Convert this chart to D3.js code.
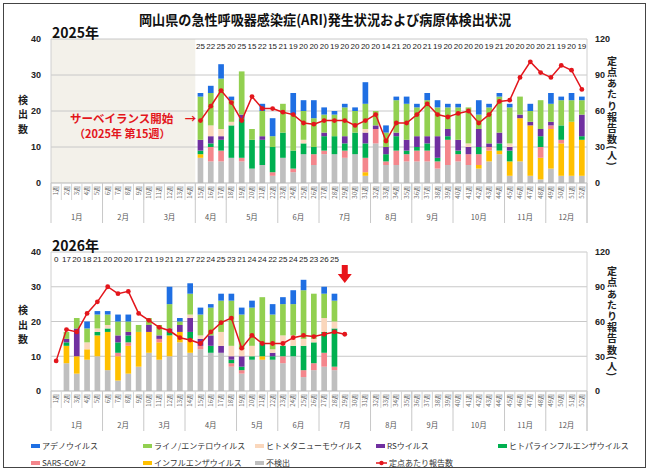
<!DOCTYPE html>
<html>
<head>
<meta charset="utf-8">
<script src="https://cdn.jsdelivr.net/npm/d3@7"></script>
<style>
  body { margin: 0; background: #fff; }
  text { font-family: "Noto Sans CJK JP", "Noto Sans", sans-serif; }
</style>
</head>
<body>
<svg id="chart" width="650" height="472"></svg>
<script>
// カテゴリ
const weeks = d3.range(1, 53);
const monthNames = ["1月","2月","3月","4月","5月","6月","7月","8月","9月","10月","11月","12月"];
const monthStart2025 = [1, 6, 10, 15, 18, 23, 27, 32, 36, 40, 45, 49];
const monthStart2026 = [1, 6, 10, 14, 19, 23, 27, 32, 36, 40, 45, 49];

// 積み上げ順（下から）
const seriesKeys = ["none", "flu", "sars", "para", "rs", "hmpv", "rhino", "adeno"];
const seriesNames = {
  adeno: "アデノウイルス", rhino: "ライノ/エンテロウイルス", hmpv: "ヒトメタニューモウイルス",
  rs: "RSウイルス", para: "ヒトパラインフルエンザウイルス", sars: "SARS-CoV-2",
  flu: "インフルエンザウイルス", none: "不検出"
};
const colors = {
  adeno: "#1f6fe3", rhino: "#92d050", hmpv: "#fad7bc", rs: "#7030a0",
  para: "#00b050", sars: "#f4868c", flu: "#ffc000", none: "#bfbfbf"
};

// 2025年（第15週〜第52週）
const weeks2025 = d3.range(15, 53);
const samples2025 = [25,22,25,20,25,15,22,15,21,19,20,20,20,19,20,20,20,20,14,21,20,20,21,19,20,20,20,20,19,21,20,20,20,20,21,19,20,19];
const none2025  = [7,6,6,7,6,4,5,2,7,3,8,5,8,8,7,8,2,11,5,5,6,6,6,4,5,6,5,4,6,8,2,6,2,1,4,2,2,2];
const flu2025   = [1,0,0,0,0,0,0,0,0,0,0,0,0,0,0,0,1,0,0,0,0,0,0,0,0,0,0,1,3,1,4,12,14,6,11,9,15,10];
const sars2025  = [0,4,3,0,1,0,0,1,0,1,0,3,1,0,2,0,4,4,1,4,2,3,3,2,7,2,3,3,1,0,0,0,0,3,1,1,0,0];
const para2025  = [1,1,3,9,11,8,7,7,7,5,3,2,4,5,2,6,4,0,2,4,1,1,2,1,1,1,0,2,0,2,3,0,0,3,0,4,0,1];
const rs2025    = [3,2,1,0,1,0,1,0,0,0,0,0,1,0,2,0,3,1,2,1,3,3,2,6,2,3,2,5,1,3,1,1,1,2,1,0,0,6];
const hmpv2025  = [0,3,2,1,0,0,0,0,0,0,1,0,0,0,0,0,1,0,0,0,0,0,0,0,0,0,1,0,0,0,1,0,0,0,0,0,0,0];
const rhino2025 = [12,9,14,6,12,3,7,3,8,10,8,8,5,6,8,6,7,4,4,9,10,8,10,8,6,9,10,4,10,10,10,5,3,8,5,7,6,4];
const adeno2025 = [1,2,4,1,0,0,2,5,0,6,3,5,2,1,1,1,6,0,2,1,2,1,2,2,1,1,0,4,1,1,1,0,2,0,3,1,2,1];
const perSite2025 = [52,64,77,67,52,72,62,62,59,57,50,49,52,52,52,48,52,57,35,50,50,57,66,57,55,58,60,50,57,68,69,88,101,92,88,98,94,78];

// 2026年（第1週〜第28週、報告数は第29週まで）
const weeks2026 = d3.range(1, 29);
const lineWeeks2026 = d3.range(1, 30);
const samples2026 = [0,17,20,18,21,20,20,20,17,21,19,21,21,27,22,24,25,23,21,24,24,22,25,24,25,23,26,25];
const none2026  = [0,8,5,9,10,6,3,5,7,11,9,10,14,11,12,11,11,7,5,9,9,9,8,10,4,6,7,6];
const flu2026   = [0,5,5,3,6,11,7,8,10,6,5,6,3,4,0,0,0,0,0,0,1,0,0,0,0,0,0,0];
const sars2026  = [0,0,0,0,0,0,1,1,0,0,1,0,0,0,1,0,0,1,1,0,0,0,2,0,2,2,4,1];
const para2026  = [0,1,0,0,1,1,3,2,0,0,0,1,0,2,0,2,0,1,1,1,4,1,3,3,7,6,6,11];
const rs2026    = [0,1,8,0,0,0,2,1,0,2,1,1,2,4,2,3,2,1,3,0,0,1,0,0,0,0,0,0];
const hmpv2026  = [0,0,0,2,1,1,0,0,0,0,0,0,0,1,1,0,4,3,2,3,0,1,3,3,2,1,4,2];
const rhino2026 = [0,2,3,4,4,3,4,3,2,2,3,7,1,6,6,8,9,13,10,11,13,10,9,9,14,13,7,6];
const adeno2026 = [0,0,0,2,1,1,2,2,0,0,0,5,1,3,2,1,2,2,2,2,0,3,2,4,3,0,2,2];
const perSite2026 = [26,53,51,67,77,90,84,86,67,61,55,52,46,44,41,51,59,63,37,48,41,41,41,46,48,47,49,51,49];

const svg = d3.select("#chart");
const plotL = 51, plotR = 587;
const red = "#e3161c";

const x = d3.scaleBand().domain(weeks).range([plotL, plotR])
  .paddingInner(0.45).paddingOuter(0.225);
const step = x.step();
const cx = w => x(w) + x.bandwidth() / 2;
const edge = w => plotL + (w - 1) * step;

function makeRows(wks, cols) {
  return wks.map((w, i) => {
    const r = { week: w };
    seriesKeys.forEach(k => r[k] = cols[k][i]);
    return r;
  });
}

// 枠
svg.append("rect").attr("x", 3.5).attr("y", 3.5).attr("width", 642).attr("height", 464)
  .attr("fill", "none").attr("stroke", "#444").attr("stroke-width", 1);

svg.append("text").attr("x", 325).attr("y", 25).attr("text-anchor", "middle")
  .attr("font-size", 14).attr("font-weight", "bold").attr("fill", "#111")
  .attr("textLength", 372).attr("lengthAdjust", "spacingAndGlyphs")
  .text("岡山県の急性呼吸器感染症(ARI)発生状況および病原体検出状況");

function drawPanel(p) {
  const y = d3.scaleLinear().domain([0, 40]).range([p.y0, p.y1]);
  const yR = d3.scaleLinear().domain([0, 120]).range([p.y0, p.y1]);
  const g = svg.append("g");

  if (p.shadeTo) {
    g.append("rect").attr("x", plotL).attr("y", p.y1)
      .attr("width", edge(p.shadeTo + 1) - plotL).attr("height", p.y0 - p.y1)
      .attr("fill", "#f3f1ea");
  }

  // グリッド
  g.selectAll(".grid").data([10, 20, 30, 40]).enter().append("line")
    .attr("x1", plotL).attr("x2", plotR)
    .attr("y1", d => y(d)).attr("y2", d => y(d))
    .attr("stroke", "#c8c8c8").attr("stroke-width", 1);
  g.append("line").attr("x1", plotL).attr("x2", plotL).attr("y1", p.y1).attr("y2", p.y0)
    .attr("stroke", "#d0d0d0");
  g.append("line").attr("x1", plotR).attr("x2", plotR).attr("y1", p.y1).attr("y2", p.y0 + 40)
    .attr("stroke", "#d0d0d0");

  // 軸
  const axL = g.append("g").attr("transform", `translate(${plotL},0)`)
    .call(d3.axisLeft(y).tickValues([0, 10, 20, 30, 40]).tickSize(0).tickPadding(10));
  axL.select(".domain").remove();
  axL.selectAll("text").attr("font-size", 9).attr("font-weight", "bold").attr("fill", "#222")
    .style("font-family", "'Liberation Sans', sans-serif");
  const axR = g.append("g").attr("transform", `translate(${plotR},0)`)
    .call(d3.axisRight(yR).tickValues([0, 30, 60, 90, 120]).tickSize(0).tickPadding(8));
  axR.select(".domain").remove();
  axR.selectAll("text").attr("font-size", 9).attr("font-weight", "bold").attr("fill", "#222")
    .style("font-family", "'Liberation Sans', sans-serif");

  // 軸タイトル
  const ym = y(20) + 3;
  g.selectAll(".lt").data(["検", "出", "数"]).enter().append("text")
    .attr("x", 23).attr("y", (d, i) => ym + (i - 1) * 14.5 + 4)
    .attr("text-anchor", "middle").attr("font-size", 10).attr("font-weight", "bold")
    .attr("fill", "#222").text(d => d);
  g.append("text").attr("x", 612).attr("y", y(20) - 55)
    .style("writing-mode", "vertical-rl")
    .attr("font-size", 10).attr("font-weight", "bold").attr("fill", "#222")
    .attr("letter-spacing", 1.2)
    .text("定点あたり報告数(人)");

  // 年ラベル
  g.append("text").attr("x", 52).attr("y", p.y1 - 1.5).attr("font-size", 14)
    .attr("font-weight", "bold").attr("fill", "#111").text(p.year);

  // 積み上げ棒
  const stacked = d3.stack().keys(seriesKeys)(p.rows);
  g.selectAll(".layer").data(stacked).enter().append("g")
    .attr("fill", d => colors[d.key])
    .selectAll("rect").data(d => d).enter().append("rect")
    .attr("x", d => x(d.data.week)).attr("width", x.bandwidth())
    .attr("y", d => y(d[1])).attr("height", d => y(d[0]) - y(d[1]));

  // 検体数
  g.selectAll(".cnt").data(p.samples).enter().append("text")
    .attr("x", (d, i) => cx(p.sampleWeeks[i])).attr("y", p.y1 + 10)
    .attr("text-anchor", "middle").attr("font-size", 8).attr("fill", "#222")
    .style("font-family", "'Liberation Sans Narrow', 'Liberation Sans', sans-serif")
    .text(d => d);

  // 定点あたり報告数
  const pts = p.lineWeeks.map((w, i) => ({ week: w, v: p.line[i] }));
  g.append("path").datum(pts)
    .attr("d", d3.line().x(d => cx(d.week)).y(d => yR(d.v)))
    .attr("fill", "none").attr("stroke", red).attr("stroke-width", 1.5);
  g.selectAll(".pt").data(pts).enter().append("circle")
    .attr("cx", d => cx(d.week)).attr("cy", d => yR(d.v)).attr("r", 2.4).attr("fill", red);

  // 週・月の表
  g.append("line").attr("x1", plotL).attr("x2", plotR).attr("y1", p.y0).attr("y2", p.y0)
    .attr("stroke", "#b5b5b5");
  g.selectAll(".wsep").data(d3.range(1, 54)).enter().append("line")
    .attr("x1", d => edge(d)).attr("x2", d => edge(d))
    .attr("y1", p.y0).attr("y2", p.y0 + 17).attr("stroke", "#d5d5d5");
  const mEdges = p.monthStart.concat([53]);
  g.selectAll(".msep").data(mEdges).enter().append("line")
    .attr("x1", d => edge(d)).attr("x2", d => edge(d))
    .attr("y1", p.y0).attr("y2", p.y0 + 40).attr("stroke", "#c8c8c8");
  g.selectAll(".wl").data(weeks).enter().append("text")
    .attr("transform", d => `translate(${cx(d)},${p.y0 + 3}) rotate(-90)`)
    .attr("text-anchor", "end").attr("dy", "0.35em")
    .attr("font-size", 6).attr("fill", "#666").text(d => d + "週");
  g.selectAll(".ml").data(monthNames).enter().append("text")
    .attr("x", (d, i) => (edge(mEdges[i]) + edge(mEdges[i + 1])) / 2)
    .attr("y", p.y0 + 37).attr("text-anchor", "middle")
    .attr("font-size", 7.5).attr("fill", "#555").text(d => d);

  return { g, y, yR };
}

const panel2025 = drawPanel({
  year: "2025年", y0: 183, y1: 39, shadeTo: 14,
  rows: makeRows(weeks2025, { none: none2025, flu: flu2025, sars: sars2025, para: para2025,
    rs: rs2025, hmpv: hmpv2025, rhino: rhino2025, adeno: adeno2025 }),
  samples: samples2025, sampleWeeks: weeks2025,
  line: perSite2025, lineWeeks: weeks2025, monthStart: monthStart2025
});

panel2025.g.append("text").attr("x", 70).attr("y", 123).attr("font-size", 11.5)
  .attr("font-weight", "bold").attr("fill", red).text("サーベイランス開始　→");
panel2025.g.append("text").attr("x", 74).attr("y", 138).attr("font-size", 11)
  .attr("font-weight", "bold").attr("fill", red).text("（2025年 第15週）");

const panel2026 = drawPanel({
  year: "2026年", y0: 391, y1: 252, shadeTo: null,
  rows: makeRows(weeks2026, { none: none2026, flu: flu2026, sars: sars2026, para: para2026,
    rs: rs2026, hmpv: hmpv2026, rhino: rhino2026, adeno: adeno2026 }),
  samples: samples2026, sampleWeeks: weeks2026,
  line: perSite2026, lineWeeks: lineWeeks2026, monthStart: monthStart2026
});

// 最新週の矢印
const ax = cx(29);
panel2026.g.append("path")
  .attr("d", `M${ax - 3},265 L${ax + 3},265 L${ax + 3},274 L${ax + 7},274 L${ax},283 L${ax - 7},274 L${ax - 3},274 Z`)
  .attr("fill", "#e8141a");

// 凡例
const legendItems = [
  ["adeno", 31, 446], ["rhino", 143, 446], ["hmpv", 255, 446], ["rs", 376, 446], ["para", 498, 446],
  ["sars", 31, 463], ["flu", 143, 463], ["none", 255, 463], ["line", 376, 463]
];
const lg = svg.append("g");
legendItems.forEach(([k, lx, ly]) => {
  if (k === "line") {
    lg.append("line").attr("x1", lx).attr("x2", lx + 11).attr("y1", ly).attr("y2", ly)
      .attr("stroke", red).attr("stroke-width", 1.5);
    lg.append("circle").attr("cx", lx + 5.5).attr("cy", ly).attr("r", 2.2).attr("fill", red);
    lg.append("text").attr("x", lx + 13).attr("y", ly + 3).attr("font-size", 8)
      .attr("fill", "#333").text("定点あたり報告数");
  } else {
    lg.append("rect").attr("x", lx).attr("y", ly - 2).attr("width", 9).attr("height", 4)
      .attr("fill", colors[k]);
    lg.append("text").attr("x", lx + 11).attr("y", ly + 3).attr("font-size", 8)
      .attr("fill", "#333").text(seriesNames[k]);
  }
});
</script>
</body>
</html>
